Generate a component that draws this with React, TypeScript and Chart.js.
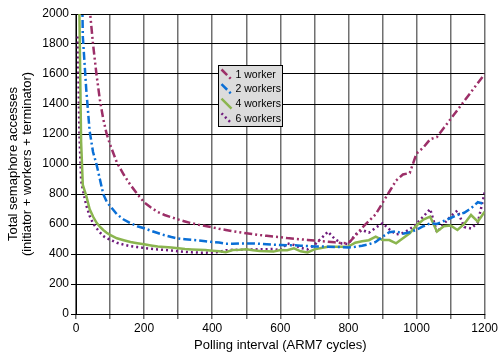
import React, { useEffect, useRef } from "react";
import { Chart, registerables } from "chart.js";

Chart.register(...registerables);

const xs = [
  5, 10, 15, 20, 30, 40, 50, 60, 70, 80, 90, 100,
  120, 140, 160, 180, 200, 220, 240, 260, 280, 300,
  320, 340, 360, 380, 400, 420, 440, 460, 480, 500,
  520, 540, 560, 580, 600, 620, 640, 660, 680, 700,
  720, 740, 760, 780, 800, 820, 840, 860, 880, 900,
  920, 940, 960, 980, 1000, 1020, 1040, 1060, 1080, 1100,
  1120, 1140, 1160, 1180, 1200,
];

const oneWorker = [
  null, null, null, 3600, 2650, 2040, 1800, 1600, 1430, 1300, 1200, 1130,
  1010, 930, 860, 800, 745, 710, 680, 660, 645, 630,
  617, 605, 595, 587, 578, 568, 560, 552, 545, 538,
  532, 526, 521, 516, 512, 506, 502, 498, 494, 490,
  486, 482, 478, 473, 472, 520, 575, 620, 665, 740,
  815, 890, 930, 940, 1070, 1110, 1165, 1180, 1240, 1300,
  1360, 1420, 1480, 1540, 1600,
];

const twoWorkers = [
  null, null, 2600, 1850, 1500, 1220, 1080, 1000, 900, 800, 750, 720,
  665, 630, 605, 585, 572, 555, 540, 525, 513, 503,
  498, 494, 490, 485, 480, 476, 468, 468, 470, 470,
  470, 468, 465, 462, 460, 458, 458, 455, 453, 450,
  450, 448, 447, 446, 444, 448, 455, 465, 480, 515,
  545, 552, 535, 545, 562, 585, 605, 600, 620, 640,
  660, 675, 705, 745, 733,
];

const fourWorkers = [
  4000, 2000, 1150, 860, 790, 700, 650, 610, 582, 560, 542, 528,
  505, 492, 480, 472, 465, 457, 450, 446, 443, 438,
  433, 430, 428, 426, 422, 418, 412, 427, 428, 431,
  425, 420, 418, 416, 427, 425, 438, 418, 410, 431,
  440, 449, 449, 449, 450, 475, 485, 492, 516, 493,
  493, 471, 505, 538, 590, 630, 649, 549, 585, 590,
  560, 600, 660, 616, 682,
];

const sixWorkers = [
  1850, 1200, 890, 830, 725, 655, 605, 572, 545, 520, 505, 495,
  475, 462, 452, 446, 440, 435, 430, 427, 423, 418,
  414, 411, 409, 409, 410, 413, 425, 428, 427, 430,
  430, 432, 432, 433, 425, 471, 460, 440, 431, 460,
  504, 549, 500, 470, 467, 530, 560, 542, 575, 605,
  565, 530, 540, 565, 600, 650, 700, 545, 600, 650,
  690, 580, 570, 610, 810,
];

const seriesLabels = ["1 worker", "2 workers", "4 workers", "6 workers"];
const seriesColors = ["#9C2F68", "#0A6FD6", "#8BB54F", "#6E1A7C"];
const seriesDashes = [[8, 3, 2, 3, 2, 3], [8, 3, 2, 3], [], [2, 3]];
const seriesValues = [oneWorker, twoWorkers, fourWorkers, sixWorkers];

const xTickMax = 1200;
const yTickMax = 2000;

const FONT = '"Liberation Sans", Arial, sans-serif';

const boxLegend = {
  id: "boxLegend",
  afterDraw(chart: any) {
    const { ctx, chartArea } = chart;
    const x0 = Math.round(chartArea.left + 142) + 0.5;
    const y0 = Math.round(chartArea.top + 51) + 0.5;
    const w = 64;
    const h = 61;
    ctx.save();
    ctx.fillStyle = "#DCDCDC";
    ctx.fillRect(x0, y0, w, h);
    ctx.strokeStyle = "#000";
    ctx.lineWidth = 1;
    ctx.strokeRect(x0, y0, w, h);
    chart.data.datasets.forEach((ds: any, i: number) => {
      const cy = y0 + 9 + i * 14.6;
      ctx.beginPath();
      ctx.strokeStyle = ds.borderColor;
      ctx.lineWidth = 2.5;
      ctx.setLineDash(ds.borderDash || []);
      ctx.moveTo(x0 + 3, cy - 5);
      ctx.lineTo(x0 + 13, cy + 5);
      ctx.stroke();
      ctx.setLineDash([]);
      ctx.fillStyle = "#000";
      ctx.font = `10.5px ${FONT}`;
      ctx.textBaseline = "middle";
      ctx.textAlign = "left";
      ctx.fillText(ds.label, x0 + 17, cy + 0.5);
    });
    ctx.restore();
  },
};

export default function App() {
  const canvasRef = useRef<HTMLCanvasElement | null>(null);

  useEffect(() => {
    const canvas = canvasRef.current;
    if (!canvas) return;
    const datasets = seriesLabels.map((label, s) => ({
      label,
      data: xs.map((x, i) => ({ x, y: seriesValues[s][i] })),
      borderColor: seriesColors[s],
      backgroundColor: seriesColors[s],
      borderDash: seriesDashes[s],
      borderWidth: 2.5,
      pointRadius: 0,
      tension: 0,
      fill: false,
    }));
    const chart = new Chart(canvas, {
      type: "line",
      data: { datasets },
      plugins: [boxLegend],
      options: {
        animation: false,
        responsive: false,
        layout: { padding: { top: 14, right: 15, left: 0, bottom: 0 } },
        plugins: {
          legend: { display: false },
          tooltip: { enabled: false },
        },
        scales: {
          x: {
            type: "linear",
            min: 0,
            max: xTickMax,
            afterFit: (scale: any) => {
              scale.height = 40;
            },
            border: { color: "#000", width: 1 },
            grid: { color: "#707070", lineWidth: 1.5, tickLength: 5 },
            ticks: {
              stepSize: 100,
              autoSkip: false,
              maxRotation: 0,
              padding: 2,
              color: "#000",
              font: { family: FONT, size: 12 },
              callback: (v: any) => (Number(v) % 200 === 0 ? String(v) : ""),
            },
            title: {
              display: true,
              text: "Polling interval (ARM7 cycles)",
              color: "#000",
              font: { family: FONT, size: 13 },
              padding: { top: 0, bottom: 1 },
            },
          },
          y: {
            min: 0,
            max: yTickMax,
            afterFit: (scale: any) => {
              scale.width = 76;
            },
            border: { color: "#000", width: 1 },
            grid: { color: "#000", lineWidth: 1, tickLength: 5 },
            ticks: {
              stepSize: 200,
              padding: 2,
              color: "#000",
              font: { family: FONT, size: 12 },
              callback: (v: any) => String(v),
            },
            title: {
              display: true,
              text: ["Total semaphore accesses", "(initiator + workers + terminator)"],
              color: "#000",
              font: { family: FONT, size: 13, lineHeight: 1.08 },
              padding: { top: 6, bottom: 0 },
            },
          },
        },
      },
    } as any);
    return () => chart.destroy();
  }, []);

  return (
    <div style={{ position: "absolute", left: 0, top: 0, width: 500, height: 354, background: "#fff" }}>
      <canvas ref={canvasRef} width={500} height={354} style={{ display: "block" }} />
    </div>
  );
}
